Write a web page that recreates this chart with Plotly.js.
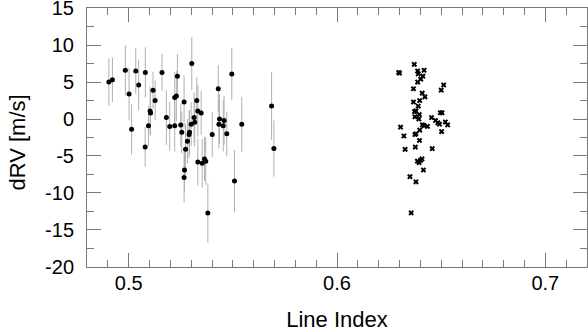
<!DOCTYPE html>
<html>
<head>
<meta charset="utf-8">
<script src="https://cdn.plot.ly/plotly-3.0.1.min.js"></script>
<style>
  html,body{margin:0;padding:0;background:#fff}
  #plot{width:588px;height:332px}
</style>
</head>
<body>
<div id="plot"></div>
<script>
// dRV vs line index, two line sets
// set 1: dots with error bars
const idxA = [0.4905,0.4922,0.4984,0.5002,0.5014,0.5034,0.5048,0.5080,0.5079,0.5095,
  0.5103,0.5105,0.5117,0.5127,0.5160,0.5181,0.5197,0.5221,0.5221,0.5229,
  0.5234,0.5250,0.5255,0.5266,0.5273,0.5268,0.5266,0.5282,0.5292,0.5290,
  0.5300,0.5303,0.5314,0.5317,0.5327,0.5332,0.5348,0.5332,0.5353,0.5364,
  0.5370,0.5380,0.5401,0.5430,0.5433,0.5436,0.5454,0.5458,0.5471,0.5495,
  0.5508,0.5543,0.5686,0.5697];
const rvA = [5.0,5.3,6.6,3.4,-1.4,6.5,4.6,6.3,-3.8,-0.9,
  1.1,0.8,3.9,2.5,6.3,0.2,-1.0,-0.9,2.9,3.1,
  5.8,-0.8,-1.8,2.3,-4.1,-6.9,-7.9,-3.0,-1.8,-2.1,
  -0.7,7.5,0.2,-0.45,2.5,1.1,0.8,-5.8,-6.0,-5.4,
  -5.7,-12.7,-2.1,4.1,-0.7,0.0,-0.9,-0.2,-2.0,6.1,
  -8.4,-0.7,1.75,-4.0];
const errA = [3.2,3.0,3.4,3.5,3.4,3.1,3.4,3.4,2.7,2.7,
  3.3,3.0,2.5,2.7,2.5,3.7,3.3,3.5,3.5,3.4,
  3.0,2.9,2.8,3.6,3.4,3.0,3.4,3.0,3.0,3.2,
  3.0,3.6,3.4,3.3,3.2,3.5,3.0,3.2,3.3,3.0,
  3.2,4.0,3.0,3.2,3.3,3.4,3.5,3.3,3.0,3.5,
  4.2,3.7,4.6,3.8];

// set 2: crosses
const idxB = [0.6371,0.6296,0.6300,0.6387,0.6418,0.6390,0.6412,0.6402,0.6387,0.6512,
  0.6500,0.6367,0.6409,0.6422,0.6397,0.6367,0.6390,0.6379,0.6372,0.6374,
  0.6393,0.6496,0.6504,0.6454,0.6473,0.6492,0.6484,0.6520,0.6531,0.6410,
  0.6418,0.6434,0.6305,0.6502,0.6397,0.6379,0.6374,0.6321,0.6396,0.6376,
  0.6457,0.6327,0.6408,0.6401,0.6386,0.6394,0.6415,0.6350,0.6379,0.6356,0.6395];
const rvB = [7.4,6.3,6.2,6.5,6.6,6.1,5.8,5.4,5.0,4.6,
  3.9,4.1,3.5,3.0,2.5,2.3,1.75,1.1,1.0,0.3,
  0.0,0.85,0.85,0.2,-0.2,-0.7,-0.5,-0.4,-0.8,-0.8,
  -0.9,-1.0,-1.1,-1.7,-1.5,-2.0,-2.1,-2.3,-2.9,-3.8,
  -4.0,-4.1,-5.4,-5.6,-5.7,-5.9,-6.9,-7.8,-8.5,-12.7,0.6];

const yTicks = [-20,-15,-10,-5,0,5,10,15];
const xTicks = [0.5,0.6,0.7];

const frame = '#7a7a7a';
const tickFont = {family:'Liberation Sans, Arial, sans-serif', size:20, color:'#000'};
const titleFont = {family:'Liberation Sans, Arial, sans-serif', size:22, color:'#000'};

const traces = [
  {x:idxA, y:rvA, type:'scatter', mode:'markers',
   error_y:{type:'data', array:errA, visible:true, color:'#b0b0b0', thickness:1, width:0},
   marker:{symbol:'circle', size:5, color:'#000'}},
  {x:idxB, y:rvB, type:'scatter', mode:'markers',
   marker:{symbol:'x', size:5, color:'#000', line:{width:0}}}
];

function ax(extra){
  return Object.assign({
    showgrid:false, zeroline:false, showline:true, linecolor:frame, linewidth:1,
    mirror:'allticks', ticks:'inside', ticklen:14, tickcolor:frame, tickwidth:1,
    tickfont:tickFont, ticklabeloverflow:'allow'
  }, extra);
}

const layout = {
  width:588, height:332,
  margin:{l:87, r:1, t:8, b:65},
  paper_bgcolor:'#fff', plot_bgcolor:'#fff',
  showlegend:false,
  font:tickFont,
  xaxis:ax({range:[0.48,0.72], tickmode:'array', tickvals:xTicks, ticktext:xTicks.map(String),
    ticklabelstandoff:-2,
    minor:{ticks:'inside', ticklen:7, tickcolor:frame, tickwidth:1, dtick:0.01, tick0:0.5},
    title:{text:'Line Index', font:titleFont, standoff:20}}),
  yaxis:ax({range:[-20.02,15.02], tickmode:'array', tickvals:yTicks, ticktext:yTicks.map(String),
    ticklabelstandoff:8,
    minor:{ticks:'inside', ticklen:7, tickcolor:frame, tickwidth:1, dtick:2.5, tick0:0}}),
  // y title as a rotated annotation so it can sit a little below centre
  annotations:[{text:'dRV [m/s]', font:titleFont, textangle:-90, showarrow:false,
    xref:'paper', yref:'paper', x:0, y:0.5, xanchor:'center', yanchor:'middle',
    xshift:-70, yshift:-5}]
};

Plotly.newPlot('plot', traces, layout, {displayModeBar:false, staticPlot:true});
</script>
</body>
</html>
